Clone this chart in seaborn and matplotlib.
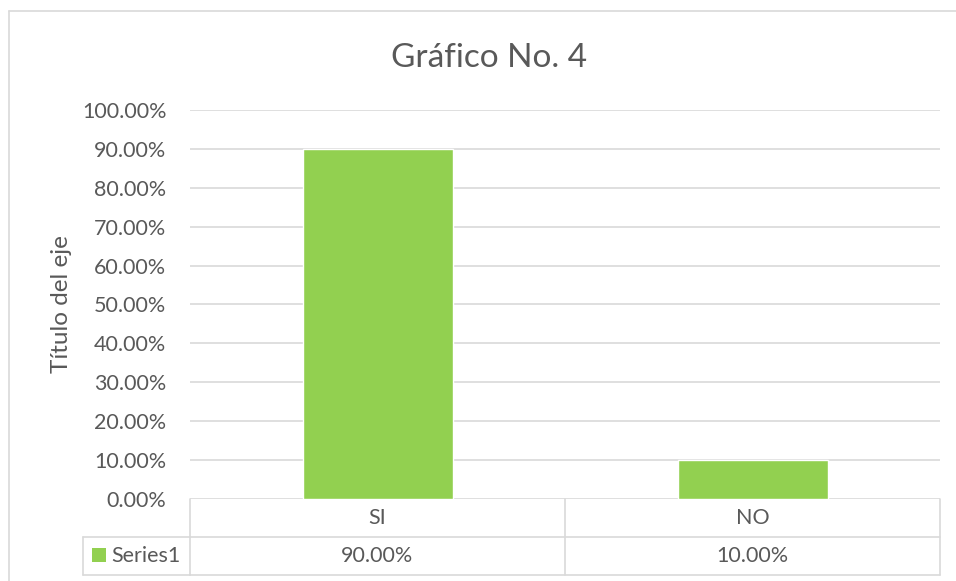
import matplotlib
matplotlib.use("Agg")
import matplotlib.pyplot as plt
import matplotlib.transforms as mtransforms
from matplotlib.patches import Rectangle
from matplotlib.ticker import FuncFormatter, MultipleLocator
import numpy as np
import pandas as pd
import seaborn as sns

categories = ["SI", "NO"]
values = [0.90, 0.10]
series_name = "Series1"
title = "Gráfico No. 4"
y_label = "Título del eje"

bar_color = "#92D050"
grid_color = "#D9D9D9"
text_color = "#595959"
fs = 15.5

sns.set_theme(style="white")
plt.rcParams["font.family"] = ["Lato", "DejaVu Sans"]

df = pd.DataFrame({"cat": categories, "val": values})

W, H = 956, 581
fig = plt.figure(figsize=(W / 100, H / 100), dpi=100)
left, right, top, bottom = 190, 940, 110, 499
ax = fig.add_axes([left / W, 1 - bottom / H, (right - left) / W, (bottom - top) / H])

sns.barplot(data=df, x="cat", y="val", color=bar_color, width=0.4, saturation=1, ax=ax, zorder=3)
ax.set_xlim(-0.5, len(categories) - 0.5)
ax.set_ylim(0, 1.0)
ax.yaxis.set_major_locator(MultipleLocator(0.1))
ax.yaxis.set_major_formatter(FuncFormatter(lambda v, _: f"{v * 100:.2f}%"))
ax.grid(axis="y", color=grid_color, linewidth=1.2, zorder=0)
ax.set_axisbelow(True)
for s in ax.spines.values():
    s.set_visible(False)
ax.tick_params(axis="y", length=0, pad=17, labelsize=fs, labelcolor=text_color)
ax.set_xticks([])
ax.set_xlabel("")
ax.set_ylabel(y_label, fontsize=17.5, color=text_color)
ax.yaxis.set_label_coords((62 - left) / (right - left), 0.5)
ax.yaxis.label.set_va("center")

fig.text(489 / W, 1 - 58 / H, title, ha="center", va="center", fontsize=24, color=text_color)

# data table below the plot (x in data coords, y in pixel-based axes fraction)
row_h = 38 / (bottom - top)
trans = mtransforms.blended_transform_factory(ax.transData, ax.transAxes)
lw = 1.2
edges = np.arange(len(categories) + 1) - 0.5
for i, (cat, val) in enumerate(zip(categories, values)):
    ax.text(i, -row_h / 2, cat, transform=trans, ha="center", va="center",
            fontsize=fs, color=text_color, clip_on=False)
    ax.text(i, -1.5 * row_h, f"{val * 100:.2f}%", transform=trans, ha="center", va="center",
            fontsize=fs, color=text_color, clip_on=False)
for e in edges:
    ax.plot([e, e], [0, -2 * row_h], transform=trans, color=grid_color, lw=lw, clip_on=False)
ax.plot([edges[0], edges[-1]], [-row_h, -row_h], transform=trans, color=grid_color, lw=lw, clip_on=False)
ax.plot([edges[0], edges[-1]], [-2 * row_h, -2 * row_h], transform=trans, color=grid_color, lw=lw, clip_on=False)

# series label cell
x0 = (83 - left) / (right - left)
ax.plot([x0, 0], [-row_h, -row_h], transform=ax.transAxes, color=grid_color, lw=lw, clip_on=False)
ax.plot([x0, 0], [-2 * row_h, -2 * row_h], transform=ax.transAxes, color=grid_color, lw=lw, clip_on=False)
ax.plot([x0, x0], [-row_h, -2 * row_h], transform=ax.transAxes, color=grid_color, lw=lw, clip_on=False)
key = Rectangle((92 / W, 1 - 562 / H), 14 / W, 14 / H, transform=fig.transFigure,
                facecolor=bar_color, edgecolor="none")
fig.patches.append(key)
fig.text(111 / W, 1 - 556 / H, series_name, ha="left", va="center", fontsize=fs, color=text_color)

# outer chart frame
fig.add_artist(plt.Line2D([9 / W, 9 / W], [0, 1 - 11 / H], transform=fig.transFigure, color=grid_color, lw=1.2))
fig.add_artist(plt.Line2D([9 / W, 1], [1 - 11 / H, 1 - 11 / H], transform=fig.transFigure, color=grid_color, lw=1.2))

fig.savefig("out.png", dpi=100)
